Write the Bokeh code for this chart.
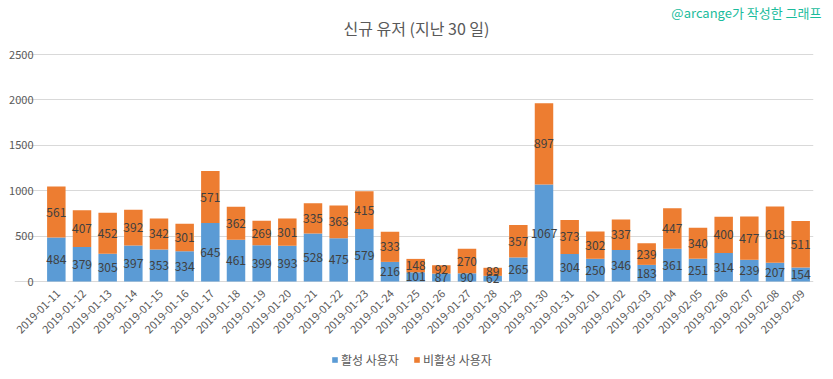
import numpy as np
from bokeh.plotting import figure
from bokeh.models import ColumnDataSource, Range1d, FixedTicker, Legend, LegendItem, Label, Title
from bokeh.core.properties import value
from bokeh.embed import file_html
from bokeh.resources import INLINE

dates = ["2019-01-11", "2019-01-12", "2019-01-13", "2019-01-14", "2019-01-15", "2019-01-16",
         "2019-01-17", "2019-01-18", "2019-01-19", "2019-01-20", "2019-01-21", "2019-01-22",
         "2019-01-23", "2019-01-24", "2019-01-25", "2019-01-26", "2019-01-27", "2019-01-28",
         "2019-01-29", "2019-01-30", "2019-01-31", "2019-02-01", "2019-02-02", "2019-02-03",
         "2019-02-04", "2019-02-05", "2019-02-06", "2019-02-07", "2019-02-08", "2019-02-09"]
active = [484, 379, 305, 397, 353, 334, 645, 461, 399, 393, 528, 475, 579, 216, 101,
          87, 90, 62, 265, 1067, 304, 250, 346, 183, 361, 251, 314, 239, 207, 154]
inactive = [561, 407, 452, 392, 342, 301, 571, 362, 269, 301, 335, 363, 415, 333, 148,
            92, 270, 89, 357, 897, 373, 302, 337, 239, 447, 340, 400, 477, 618, 511]
y_ticks = [0, 500, 1000, 1500, 2000, 2500]

FONT = "Noto Sans CJK KR"
BLUE = "#5B9BD5"
ORANGE = "#ED7D31"

# layout (pixels)
N = len(dates)
PLOT_W = 770                          # width of the category area
LEFT_EXTRA = 29                       # frame room left of the first bar for its rotated label
FRAME_W = PLOT_W + LEFT_EXTRA
FRAME_H = 358
PX_PER_CAT = PLOT_W / N
PX_PER_UNIT = 227 / 2500.0            # 2500 gridline sits 227px above zero
Y_TOP = 2500 + 33 / PX_PER_UNIT
Y_BOT = -98 / PX_PER_UNIT
X_START = -0.5 - LEFT_EXTRA / PX_PER_CAT
X_END = N - 0.5

a = np.array(active)
b = np.array(inactive)
idx = np.arange(N)
src = ColumnDataSource(dict(
    idx=idx, date=dates, active=active, inactive=inactive,
    a_mid=a / 2.0, b_mid=a + b / 2.0, base=np.zeros(N),
    a_txt=[str(v) for v in active], b_txt=[str(v) for v in inactive],
))

p = figure(x_range=Range1d(X_START, X_END), y_range=Range1d(Y_BOT, Y_TOP),
           frame_width=FRAME_W, frame_height=FRAME_H, output_backend="svg", toolbar_location=None,
           min_border_left=14, min_border_right=20, min_border_top=0, min_border_bottom=0)

p.title = None
p.add_layout(Title(text="@arcange가 작성한 그래프", align="right", offset=-8, standoff=0,
                   text_color="#1ABC9C", text_font=FONT, text_font_size="13px",
                   text_font_style="normal"), "above")

r = p.vbar_stack(["active", "inactive"], x="idx", width=0.72, color=[BLUE, ORANGE],
                 line_color=None, source=src)

p.text(x="idx", y="a_mid", text="a_txt", source=src, text_align="center", text_baseline="middle",
       text_font=value(FONT), text_font_size="12px", text_color="#404040")
p.text(x="idx", y="b_mid", text="b_txt", source=src, text_align="center", text_baseline="middle",
       text_font=value(FONT), text_font_size="12px", text_color="#404040")

# category (date) labels under the zero line, rotated 45 degrees
p.text(x="idx", y="base", text="date", source=src, angle=np.pi / 4,
       text_align="right", text_baseline="middle", x_offset=2, y_offset=10,
       text_font=value(FONT), text_font_size="11px", text_color="#595959")

p.add_layout(Label(x=402, y=FRAME_H - 6, x_units="screen", y_units="screen",
                   text="신규 유저 (지난 30 일)", text_align="center", text_baseline="middle",
                   text_color="#595959", text_font=FONT, text_font_size="16px"))

p.yaxis.ticker = FixedTicker(ticks=y_ticks)
p.yaxis.axis_line_color = None
p.yaxis.major_tick_line_color = None
p.yaxis.minor_tick_line_color = None
p.yaxis.major_tick_out = 0
p.yaxis.major_tick_in = 0
p.yaxis.minor_tick_out = 0
p.yaxis.major_label_standoff = -(LEFT_EXTRA - 10)
p.yaxis.major_label_text_font = FONT
p.yaxis.major_label_text_font_size = "11px"
p.yaxis.major_label_text_color = "#595959"

p.xaxis.visible = False
p.xgrid.grid_line_color = None
p.ygrid.ticker = FixedTicker(ticks=y_ticks)
p.ygrid.bounds = (-0.5, N - 0.5)
p.ygrid.grid_line_color = "#d9d9d9"
p.outline_line_color = None

legend = Legend(items=[LegendItem(label="활성 사용자", renderers=[r[0]]),
                       LegendItem(label="비활성 사용자", renderers=[r[1]])],
                orientation="horizontal", location=(288 + LEFT_EXTRA, 11),
                label_text_font=FONT, label_text_font_size="12px", label_text_color="#595959",
                glyph_width=7, glyph_height=7, label_height=14, border_line_color=None,
                background_fill_alpha=0, spacing=14, padding=0, margin=0, label_standoff=3)
p.add_layout(legend, "center")

open("out.html", "w").write(file_html(p, INLINE))
